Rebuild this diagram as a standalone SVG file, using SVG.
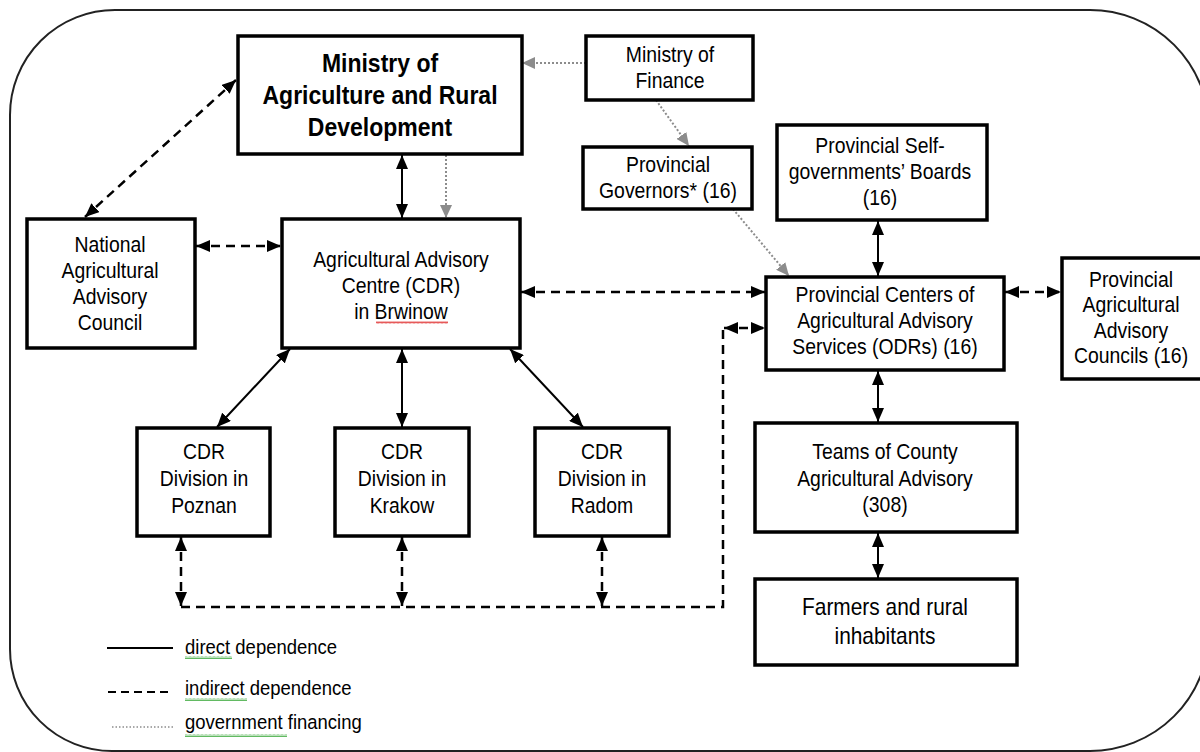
<svg xmlns="http://www.w3.org/2000/svg" width="1200" height="752" viewBox="0 0 1200 752">
<style>
.box{fill:#fff;stroke:#000;stroke-width:3.5}
.t{font-family:"Liberation Sans",Arial,sans-serif;font-size:19.4px;fill:#000;text-anchor:middle}
.tb{font-family:"Liberation Sans",Arial,sans-serif;font-size:23px;font-weight:bold;fill:#000;text-anchor:middle}
.tf{font-family:"Liberation Sans",Arial,sans-serif;font-size:20.9px;fill:#000;text-anchor:middle}
.tl{font-family:"Liberation Sans",Arial,sans-serif;font-size:18.5px;fill:#000;text-anchor:start}
.solid{fill:none;stroke:#000;stroke-width:2}
.dash{fill:none;stroke:#000;stroke-width:2.5;stroke-dasharray:9 6}
.dot{fill:none;stroke:#8c8c8c;stroke-width:2;stroke-dasharray:2 2}
</style>
<defs>
<marker id="ah" viewBox="0 0 14 12" refX="14" refY="6" markerWidth="14" markerHeight="12" markerUnits="userSpaceOnUse" orient="auto-start-reverse"><path d="M0,0 L14,6 L0,12 Z" fill="#000"/></marker>
<marker id="ag" viewBox="0 0 13 12" refX="13" refY="6" markerWidth="13" markerHeight="12" markerUnits="userSpaceOnUse" orient="auto"><path d="M0,0 L13,6 L0,12 Z" fill="#8c8c8c"/></marker>
<pattern id="wr" width="4" height="3" patternUnits="userSpaceOnUse"><path d="M0,2.5 L1,0.5 L2,2.5 L3,0.5 L4,2.5" fill="none" stroke="#e03030" stroke-width="0.8"/></pattern>
<pattern id="wg" width="4" height="3" patternUnits="userSpaceOnUse"><path d="M0,2.5 L1,0.5 L2,2.5 L3,0.5 L4,2.5" fill="none" stroke="#3aa83a" stroke-width="0.8"/></pattern>
</defs>
<rect width="1200" height="752" fill="#fff"/>
<path d="M115,10 H1090 A119,119 0 0 1 1209,129 V632 A119,119 0 0 1 1090,751 H112 A102,102 0 0 1 10,649 V115 A105,105 0 0 1 115,10 Z" fill="none" stroke="#222" stroke-width="2"/>

<g id="connectors">
<line class="dot" x1="586" y1="63" x2="522" y2="63" marker-end="url(#ag)"/>
<line class="dot" x1="656" y1="100" x2="689" y2="146" marker-end="url(#ag)"/>
<line class="dot" x1="733" y1="209" x2="789" y2="276" marker-end="url(#ag)"/>
<line class="dot" x1="446" y1="155" x2="446" y2="218" marker-end="url(#ag)"/>
<line class="solid" x1="402" y1="155" x2="402" y2="218" marker-start="url(#ah)" marker-end="url(#ah)"/>
<line class="dash" x1="236" y1="80" x2="85" y2="217" marker-start="url(#ah)" marker-end="url(#ah)"/>
<line class="dash" x1="196" y1="246" x2="281" y2="246" marker-start="url(#ah)" marker-end="url(#ah)"/>
<line class="dash" x1="521" y1="292" x2="765" y2="292" marker-start="url(#ah)" marker-end="url(#ah)"/>
<line class="dash" x1="1005" y1="292" x2="1061" y2="292" marker-start="url(#ah)" marker-end="url(#ah)"/>
<line class="solid" x1="878" y1="221" x2="878" y2="276" marker-start="url(#ah)" marker-end="url(#ah)"/>
<line class="solid" x1="878" y1="371" x2="878" y2="422" marker-start="url(#ah)" marker-end="url(#ah)"/>
<line class="solid" x1="878" y1="533" x2="878" y2="578" marker-start="url(#ah)" marker-end="url(#ah)"/>
<line class="solid" x1="290" y1="349" x2="217" y2="427" marker-start="url(#ah)" marker-end="url(#ah)"/>
<line class="solid" x1="402" y1="349" x2="402" y2="427" marker-start="url(#ah)" marker-end="url(#ah)"/>
<line class="solid" x1="510" y1="349" x2="583" y2="427" marker-start="url(#ah)" marker-end="url(#ah)"/>
<line class="dash" x1="181" y1="537" x2="181" y2="606" marker-start="url(#ah)" marker-end="url(#ah)"/>
<line class="dash" x1="402" y1="537" x2="402" y2="606" marker-start="url(#ah)" marker-end="url(#ah)"/>
<line class="dash" x1="602" y1="537" x2="602" y2="606" marker-start="url(#ah)" marker-end="url(#ah)"/>
<path class="dash" d="M181,607 H723 V328"/>
<line class="dash" x1="724" y1="328" x2="765" y2="328" marker-start="url(#ah)" marker-end="url(#ah)"/>
</g>

<g id="ministry-agriculture">
<rect class="box" x="238" y="36" width="284" height="118"/>
<text class="tb" transform="translate(380,72) scale(1,1.09)"><tspan x="0" y="0">Ministry of</tspan><tspan x="0" y="29.4">Agriculture and Rural</tspan><tspan x="0" y="58.7">Development</tspan></text>
</g>
<g id="ministry-finance">
<rect class="box" x="586" y="36" width="167" height="64"/>
<text class="t" transform="translate(670,62) scale(1,1.15)"><tspan x="0" y="0">Ministry of</tspan><tspan x="0" y="22.6">Finance</tspan></text>
</g>
<g id="provincial-governors">
<rect class="box" x="583" y="147" width="169" height="62"/>
<text class="t" transform="translate(668,172) scale(1,1.15)"><tspan x="0" y="0">Provincial</tspan><tspan x="0" y="22.6">Governors* (16)</tspan></text>
</g>
<g id="provincial-self-governments">
<rect class="box" x="777" y="125" width="210" height="95"/>
<text class="t" transform="translate(880,153) scale(1,1.15)"><tspan x="0" y="0">Provincial Self-</tspan><tspan x="0" y="22.8">governments’ Boards</tspan><tspan x="0" y="45.6">(16)</tspan></text>
</g>
<g id="national-council">
<rect class="box" x="27" y="219" width="168" height="129"/>
<text class="t" transform="translate(110,252) scale(1,1.15)"><tspan x="0" y="0">National</tspan><tspan x="0" y="22.6">Agricultural</tspan><tspan x="0" y="45.2">Advisory</tspan><tspan x="0" y="67.8">Council</tspan></text>
</g>
<g id="cdr-brwinow">
<rect class="box" x="282" y="219" width="238" height="129"/>
<text class="t" transform="translate(401,267) scale(1,1.15)"><tspan x="0" y="0">Agricultural Advisory</tspan><tspan x="0" y="22.6">Centre (CDR)</tspan><tspan x="0" y="45.2">in Brwinow</tspan></text>
<rect x="376" y="321" width="72" height="3" fill="url(#wr)"/>
</g>
<g id="provincial-centers">
<rect class="box" x="766" y="277" width="238" height="93"/>
<text class="t" transform="translate(885,302) scale(1,1.15)"><tspan x="0" y="0">Provincial Centers of</tspan><tspan x="0" y="22.6">Agricultural Advisory</tspan><tspan x="0" y="45.2">Services (ODRs) (16)</tspan></text>
</g>
<g id="provincial-councils">
<rect class="box" x="1062" y="258" width="145" height="121"/>
<text class="t" transform="translate(1131,287) scale(1,1.15)"><tspan x="0" y="0">Provincial</tspan><tspan x="0" y="22">Agricultural</tspan><tspan x="0" y="44">Advisory</tspan><tspan x="0" y="66">Councils (16)</tspan></text>
</g>
<g id="cdr-poznan">
<rect class="box" x="137" y="428" width="133" height="108"/>
<text class="t" transform="translate(204,459) scale(1,1.15)"><tspan x="0" y="0">CDR</tspan><tspan x="0" y="23.5">Division in</tspan><tspan x="0" y="47">Poznan</tspan></text>
</g>
<g id="cdr-krakow">
<rect class="box" x="335" y="428" width="134" height="108"/>
<text class="t" transform="translate(402,459) scale(1,1.15)"><tspan x="0" y="0">CDR</tspan><tspan x="0" y="23.5">Division in</tspan><tspan x="0" y="47">Krakow</tspan></text>
</g>
<g id="cdr-radom">
<rect class="box" x="535" y="428" width="134" height="108"/>
<text class="t" transform="translate(602,459) scale(1,1.15)"><tspan x="0" y="0">CDR</tspan><tspan x="0" y="23.5">Division in</tspan><tspan x="0" y="47">Radom</tspan></text>
</g>
<g id="county-teams">
<rect class="box" x="755" y="423" width="262" height="109"/>
<text class="t" transform="translate(885,459) scale(1,1.15)"><tspan x="0" y="0">Teams of County</tspan><tspan x="0" y="23.3">Agricultural Advisory</tspan><tspan x="0" y="46.1">(308)</tspan></text>
</g>
<g id="farmers">
<rect class="box" x="755" y="579" width="262" height="86"/>
<text class="tf" transform="translate(885,615) scale(1,1.11)"><tspan x="0" y="0">Farmers and rural</tspan><tspan x="0" y="26.1">inhabitants</tspan></text>
</g>

<g id="legend">
<line x1="107" y1="648" x2="173" y2="648" stroke="#000" stroke-width="2"/>
<line x1="108" y1="692" x2="171" y2="692" stroke="#000" stroke-width="2" stroke-dasharray="8 5"/>
<line x1="112" y1="727" x2="173" y2="727" stroke="#8c8c8c" stroke-width="1.5" stroke-dasharray="1.5 2"/>
<text class="tl" transform="translate(185,654) scale(1,1.12)">direct dependence</text>
<text class="tl" transform="translate(185,695) scale(1,1.12)">indirect dependence</text>
<text class="tl" transform="translate(185,729) scale(1,1.12)">government financing</text>
<rect x="185" y="656" width="47" height="3" fill="url(#wg)"/>
<rect x="185" y="698" width="62" height="3" fill="url(#wg)"/>
<rect x="185" y="734" width="102" height="3" fill="url(#wg)"/>
</g>
</svg>
